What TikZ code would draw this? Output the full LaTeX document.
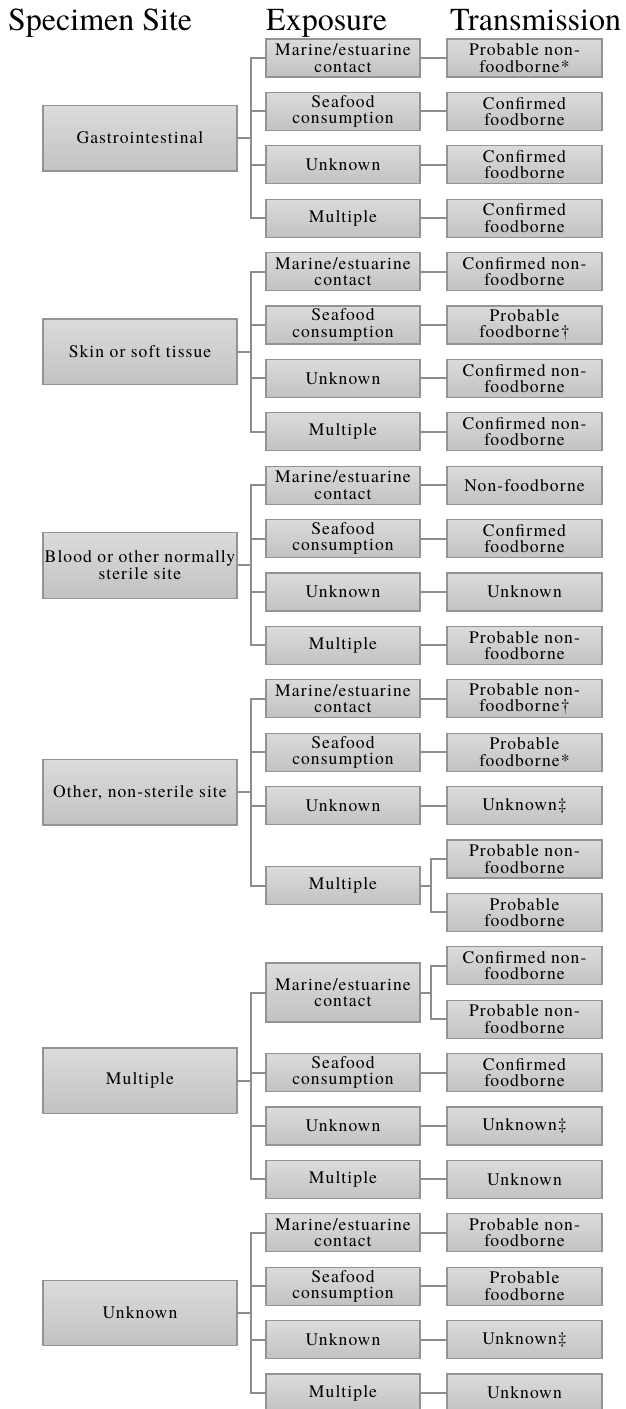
\documentclass[tikz,border=0pt]{standalone}
\usepackage{fontspec}
\setmainfont{TeX Gyre Termes}
\newfontfamily\boxfont{TeX Gyre Termes}[LetterSpace=6]
\usetikzlibrary{positioning,calc}

\begin{document}
\begin{tikzpicture}[
    x=1pt, y=-1pt,
    node distance=15.4pt and 27pt,
    box/.style={draw=gray!85, line width=1.2pt, top color=gray!28, bottom color=gray!48, align=center, inner sep=1pt, outer sep=0pt, minimum height=38pt, font=\boxfont\fontsize{17.6}{16.5}\selectfont},
    sitebox/.style={box, minimum width=194pt, minimum height=65.6pt},
    expbox/.style={box, minimum width=154pt},
    transbox/.style={box, minimum width=155pt},
    headtxt/.style={anchor=base west, inner sep=0pt, font=\fontsize{32}{36}\selectfont},
    link/.style={draw=gray!90, line width=2pt}
]
\useasboundingbox (0,0) rectangle (625,1409);

% Column headings
\node[headtxt] (hsite) at (8,30) {Specimen Site};
\node[headtxt] (hexp) at (266,30) {Exposure};
\node[headtxt] (htrans) at (450,30) {Transmission};

% Transmission column (one chain)
\node[transbox] (gim-t) at (524.5,58) {Probable non-\\foodborne*};
\node[transbox, below=of gim-t] (gis-t) {Confirmed\\foodborne};
\node[transbox, below=of gis-t] (giu-t) {Confirmed\\foodborne};
\node[transbox, below=of giu-t] (gix-t) {Confirmed\\foodborne};
\node[transbox, below=of gix-t] (skm-t) {Confirmed non-\\foodborne};
\node[transbox, below=of skm-t] (sks-t) {Probable\\foodborne†};
\node[transbox, below=of sks-t] (sku-t) {Confirmed non-\\foodborne};
\node[transbox, below=of sku-t] (skx-t) {Confirmed non-\\foodborne};
\node[transbox, below=of skx-t] (blm-t) {Non-foodborne};
\node[transbox, below=of blm-t] (bls-t) {Confirmed\\foodborne};
\node[transbox, below=of bls-t] (blu-t) {Unknown};
\node[transbox, below=of blu-t] (blx-t) {Probable non-\\foodborne};
\node[transbox, below=of blx-t] (otm-t) {Probable non-\\foodborne†};
\node[transbox, below=of otm-t] (ots-t) {Probable\\foodborne*};
\node[transbox, below=of ots-t] (otu-t) {Unknown‡};
\node[transbox, below=of otu-t] (otx-t1) {Probable non-\\foodborne};
\node[transbox, below=of otx-t1] (otx-t2) {Probable\\foodborne};
\node[transbox, below=of otx-t2] (mum-t1) {Confirmed non-\\foodborne};
\node[transbox, below=of mum-t1] (mum-t2) {Probable non-\\foodborne};
\node[transbox, below=of mum-t2] (mus-t) {Confirmed\\foodborne};
\node[transbox, below=of mus-t] (muu-t) {Unknown‡};
\node[transbox, below=of muu-t] (mux-t) {Unknown};
\node[transbox, below=of mux-t] (unm-t) {Probable non-\\foodborne};
\node[transbox, below=of unm-t] (uns-t) {Probable\\foodborne};
\node[transbox, below=of uns-t] (unu-t) {Unknown‡};
\node[transbox, below=of unu-t] (unx-t) {Unknown};

% Exposure column
\node[expbox, left=of gim-t] (gim) {Marine/estuarine\\contact};
\node[expbox, left=of gis-t] (gis) {Seafood\\consumption};
\node[expbox, left=of giu-t] (giu) {Unknown};
\node[expbox, left=of gix-t] (gix) {Multiple};
\node[expbox, left=of skm-t] (skm) {Marine/estuarine\\contact};
\node[expbox, left=of sks-t] (sks) {Seafood\\consumption};
\node[expbox, left=of sku-t] (sku) {Unknown};
\node[expbox, left=of skx-t] (skx) {Multiple};
\node[expbox, left=of blm-t] (blm) {Marine/estuarine\\contact};
\node[expbox, left=of bls-t] (bls) {Seafood\\consumption};
\node[expbox, left=of blu-t] (blu) {Unknown};
\node[expbox, left=of blx-t] (blx) {Multiple};
\node[expbox, left=of otm-t] (otm) {Marine/estuarine\\contact};
\node[expbox, left=of ots-t] (ots) {Seafood\\consumption};
\node[expbox, left=of otu-t] (otu) {Unknown};
\node[expbox, anchor=east] (otx) at ($(otx-t1.west)!0.5!(otx-t2.west) + (-27pt,0)$) {Multiple};
\node[expbox, anchor=east, minimum height=59pt] (mum) at ($(mum-t1.west)!0.5!(mum-t2.west) + (-27pt,0)$) {Marine/estuarine\\contact};
\node[expbox, left=of mus-t] (mus) {Seafood\\consumption};
\node[expbox, left=of muu-t] (muu) {Unknown};
\node[expbox, left=of mux-t] (mux) {Multiple};
\node[expbox, left=of unm-t] (unm) {Marine/estuarine\\contact};
\node[expbox, left=of uns-t] (uns) {Seafood\\consumption};
\node[expbox, left=of unu-t] (unu) {Unknown};
\node[expbox, left=of unx-t] (unx) {Multiple};

% Specimen sites
\node[sitebox, anchor=east] (gi) at ($(gim.north west)!0.5!(gix.south west) + (-29pt,0)$) {Gastrointestinal};
\node[sitebox, anchor=east] (sk) at ($(skm.north west)!0.5!(skx.south west) + (-29pt,0)$) {Skin or soft tissue};
\node[sitebox, anchor=east] (bl) at ($(blm.north west)!0.5!(blx.south west) + (-29pt,0)$) {Blood or other normally\\sterile site};
\node[sitebox, anchor=east] (ot) at ($(otm.north west)!0.5!(otx.south west) + (-29pt,0)$) {Other, non-sterile site};
\node[sitebox, anchor=east] (mu) at ($(mum.north west)!0.5!(mux.south west) + (-29pt,0)$) {Multiple};
\node[sitebox, anchor=east] (un) at ($(unm.north west)!0.5!(unx.south west) + (-29pt,0)$) {Unknown};

% Site -> exposure
\foreach \e in {gim,gis,giu,gix} \draw[link] (gi.east) -- ++(14pt,0) |- (\e.west);
\foreach \e in {skm,sks,sku,skx} \draw[link] (sk.east) -- ++(14pt,0) |- (\e.west);
\foreach \e in {blm,bls,blu,blx} \draw[link] (bl.east) -- ++(14pt,0) |- (\e.west);
\foreach \e in {otm,ots,otu,otx} \draw[link] (ot.east) -- ++(14pt,0) |- (\e.west);
\foreach \e in {mum,mus,muu,mux} \draw[link] (mu.east) -- ++(14pt,0) |- (\e.west);
\foreach \e in {unm,uns,unu,unx} \draw[link] (un.east) -- ++(14pt,0) |- (\e.west);

% Exposure -> transmission
\foreach \e in {gim,gis,giu,gix,skm,sks,sku,skx,blm,bls,blu,blx,otm,ots,otu,mus,muu,mux,unm,uns,unu,unx}
  \draw[link] (\e.east) -- (\e-t.west);
\draw[link] (otx.east) -- ++(11pt,0) |- (otx-t1.west);
\draw[link] (otx.east) -- ++(11pt,0) |- (otx-t2.west);
\draw[link] (mum.east) -- ++(11pt,0) |- (mum-t1.west);
\draw[link] (mum.east) -- ++(11pt,0) |- (mum-t2.west);

\end{tikzpicture}
\end{document}
